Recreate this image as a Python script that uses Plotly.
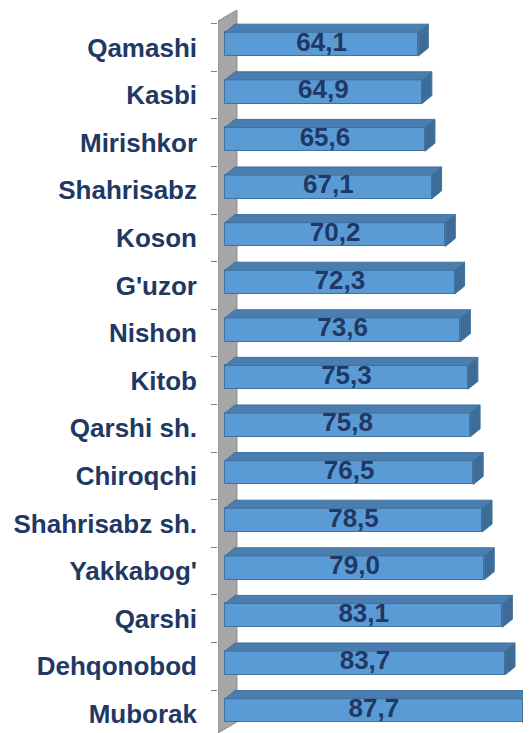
import plotly.graph_objects as go

# districts, top to bottom as shown
districts = ["Qamashi", "Kasbi", "Mirishkor", "Shahrisabz", "Koson", "G'uzor", "Nishon",
             "Kitob", "Qarshi sh.", "Chiroqchi", "Shahrisabz sh.", "Yakkabog'", "Qarshi",
             "Dehqonobod", "Muborak"]
values = [64.1, 64.9, 65.6, 67.1, 70.2, 72.3, 73.6, 75.3, 75.8, 76.5, 78.5, 79.0, 83.1, 83.7, 87.7]
axis_min = 20.4

FRONT = "#5B9BD5"
TOP = "#4A7DB0"
SIDE = "#3E6C98"
EDGE = "#41719C"
TEXT = "#1F3864"
FONT = "Liberation Sans, Arial, sans-serif"

# 3D look: depth offset in data units
DX, DY = 2.26, 0.17
OFF, W = -0.32, 0.5
X_RANGE = [18.82, 89.57]
Y_RANGE = [14.401, -0.83]

pos = list(range(len(districts)))
labels = [f"{v:.1f}".replace(".", ",") for v in values]

fig = go.Figure()

# side and top faces of each bar
top_x, top_y, side_x, side_y = [], [], [], []
for p, v in zip(pos, values):
    y0 = p + OFF
    y1 = p + OFF + W
    top_x += [axis_min, v, v + DX, axis_min + DX, axis_min, None]
    top_y += [y0, y0, y0 - DY, y0 - DY, y0, None]
    side_x += [v, v + DX, v + DX, v, v, None]
    side_y += [y0, y0 - DY, y1 - DY, y1, y0, None]

fig.add_trace(go.Bar(
    y=pos, x=[v - axis_min for v in values], base=axis_min, orientation="h",
    width=W, offset=OFF, marker=dict(color=FRONT, line=dict(color=EDGE, width=1)),
    hoverinfo="skip", showlegend=False,
))
fig.add_trace(go.Scatter(x=side_x, y=side_y, mode="lines", fill="toself", fillcolor=SIDE,
                         line=dict(color=EDGE, width=1), hoverinfo="skip", showlegend=False))
fig.add_trace(go.Scatter(x=top_x, y=top_y, mode="lines", fill="toself", fillcolor=TOP,
                         line=dict(color=EDGE, width=1), hoverinfo="skip", showlegend=False))
fig.add_trace(go.Scatter(
    x=[(axis_min + v) / 2 for v in values], y=[p + OFF + W / 2 for p in pos],
    mode="text", text=labels, textposition="middle center",
    textfont=dict(family=FONT, size=26, color=TEXT, weight="bold"),
    hoverinfo="skip", showlegend=False,
))

# grey back wall
fig.add_shape(type="path", xref="x", yref="y", layer="below",
              path="M 18.82,-0.557 L 23.11,-0.788 L 23.11,14.17 L 18.82,14.401 Z",
              fillcolor="#A6A6A6", line=dict(color="#8C8C8C", width=1))

# page body adds an 8px margin, so the figure is 8px smaller
fig.update_layout(
    width=523, height=725,
    margin=dict(l=210, r=0, t=0, b=0),
    plot_bgcolor="white", paper_bgcolor="white",
    bargap=0,
    xaxis=dict(range=X_RANGE, visible=False),
    yaxis=dict(
        range=Y_RANGE, tickmode="array", tickvals=pos, ticktext=districts,
        ticks="", showgrid=False, zeroline=False, showline=False,
        ticklabelstandoff=20,
        tickfont=dict(family=FONT, size=26, color=TEXT, weight="bold"),
        minor=dict(tickmode="array", tickvals=[p - 0.5 for p in pos], ticks="outside",
                   ticklen=6, tickcolor="#808080", showgrid=False),
    ),
)

fig.write_html("out.html")
